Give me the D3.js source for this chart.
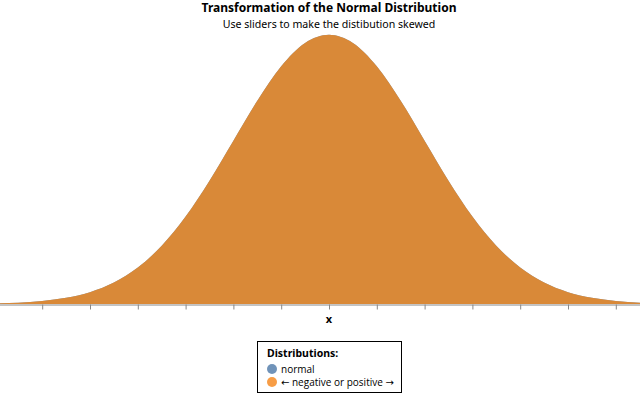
<!DOCTYPE html>
<html>
<head>
<meta charset="utf-8">
<script src="https://cdn.jsdelivr.net/npm/d3@7"></script>
<style>
body { margin: 0; background: #fff; }
svg { display: block; font-family: "Noto Sans", "Open Sans", sans-serif; }
</style>
</head>
<body>
<svg id="chart" width="640" height="400"></svg>
<script>
// Data (density values at x positions)
const xValues = [-3.75, -3.5, -3.25, -3, -2.75, -2.5, -2.25, -2, -1.75, -1.5, -1.25, -1, -0.75, -0.5, -0.25, 0,
  0.25, 0.5, 0.75, 1, 1.25, 1.5, 1.75, 2, 2.25, 2.5, 2.75, 3, 3.25, 3.5, 3.75];
const normalDensity = [0.0004, 0.0009, 0.0020, 0.0044, 0.0091, 0.0175, 0.0317, 0.0540, 0.0863, 0.1295, 0.1826, 0.2420, 0.3011, 0.3521, 0.3867, 0.3989,
  0.3867, 0.3521, 0.3011, 0.2420, 0.1826, 0.1295, 0.0863, 0.0540, 0.0317, 0.0175, 0.0091, 0.0044, 0.0020, 0.0009, 0.0004];
const skewedDensity = [0.0004, 0.0009, 0.0020, 0.0044, 0.0091, 0.0175, 0.0317, 0.0540, 0.0863, 0.1295, 0.1826, 0.2420, 0.3011, 0.3521, 0.3867, 0.3989,
  0.3867, 0.3521, 0.3011, 0.2420, 0.1826, 0.1295, 0.0863, 0.0540, 0.0317, 0.0175, 0.0091, 0.0044, 0.0020, 0.0009, 0.0004];
const tickValues = [-3.5, -3, -2.5, -2, -1.5, -1, -0.5, 0, 0.5, 1, 1.5, 2, 2.5, 3, 3.5];
const legendLabels = ["normal", "\u2190 negative or positive \u2192"];
const legendColors = ["#4c78a8", "#f58518"];

const svg = d3.select("#chart");
const x = d3.scaleLinear().domain([-3.5, 3.5]).range([-5.6, 663.6]);
const y = d3.scaleLinear().domain([0, 0.4]).range([304, 34]);

const area = (vals) => d3.area()
  .x((d, i) => x(xValues[i]))
  .y0(y(0))
  .y1((d) => y(d))
  .curve(d3.curveMonotoneX)(vals);

svg.append("path").attr("d", area(normalDensity)).attr("fill", "#4c78a8").attr("fill-opacity", 0.7);
svg.append("path").attr("d", area(skewedDensity)).attr("fill", "#d98938");

// Axis
const axis = d3.axisBottom(x).tickValues(tickValues).tickSize(5).tickFormat("");
const g = svg.append("g").attr("transform", "translate(0,304.5)").call(axis);
g.select(".domain").attr("stroke", "#888").attr("d", "M0,0.5H640");
g.selectAll(".tick line").attr("stroke", "#888");

svg.append("text").attr("x", 329).attr("y", 323).attr("text-anchor", "middle")
  .attr("font-size", 11).attr("font-weight", "bold").text("x");

// Title
svg.append("text").attr("x", 329).attr("y", 12).attr("text-anchor", "middle")
  .attr("font-size", 12).attr("font-weight", "bold").text("Transformation of the Normal Distribution");
svg.append("text").attr("x", 329).attr("y", 27.5).attr("text-anchor", "middle")
  .attr("font-size", 10.6).text("Use sliders to make the distibution skewed");

// Legend
const lg = svg.append("g").attr("transform", "translate(257.5,341.5)");
lg.append("rect").attr("width", 144).attr("height", 51).attr("fill", "#fff").attr("stroke", "#000");
lg.append("text").attr("x", 9.5).attr("y", 15.5).attr("font-size", 10.5).attr("font-weight", "bold").text("Distributions:");
const items = lg.selectAll(".item").data(legendLabels).enter().append("g")
  .attr("transform", (d, i) => `translate(14.5,${27.5 + i * 13})`);
items.append("circle").attr("r", 5).attr("fill", (d, i) => legendColors[i]).attr("fill-opacity", 0.8);
items.append("text").attr("x", 9).attr("y", 3.5).attr("font-size", 10)
  .style("font-family", "'Open Sans', 'DejaVu Sans', sans-serif").text((d) => d);
</script>
</body>
</html>
